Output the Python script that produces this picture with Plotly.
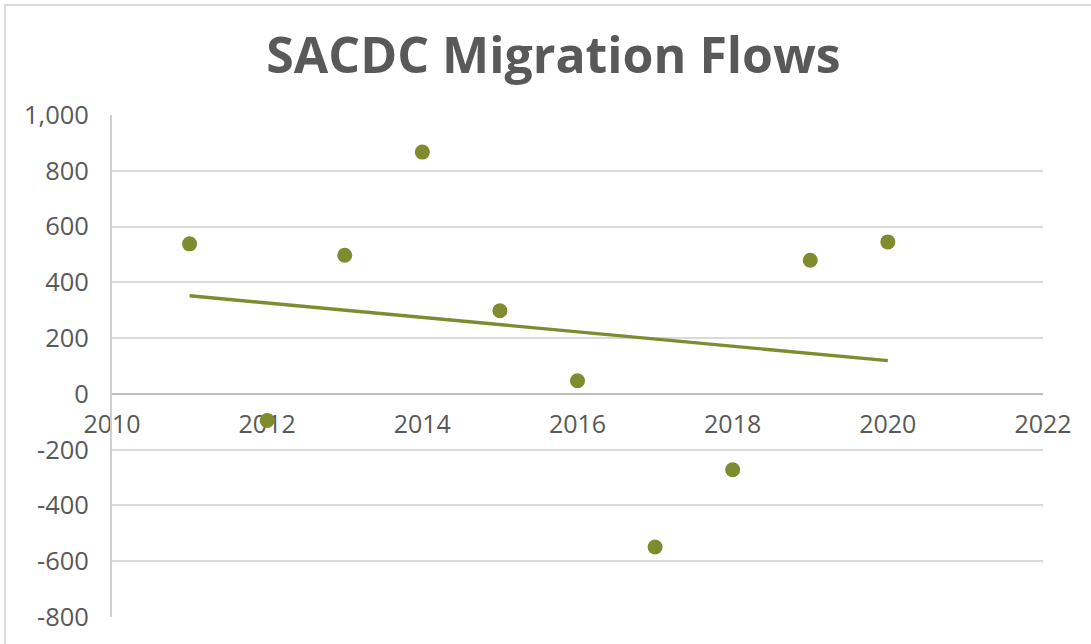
import numpy as np
import plotly.graph_objects as go

years = [2011, 2012, 2013, 2014, 2015, 2016, 2017, 2018, 2019, 2020]
flows = [538, -95, 497, 867, 298, 47, -549, -272, 479, 545]
x_ticks = [2010, 2012, 2014, 2016, 2018, 2020, 2022]
y_ticks = [-800, -600, -400, -200, 0, 200, 400, 600, 800, 1000]
title_text = "SACDC Migration Flows"

COLOR = "#7f8b2f"
TXT = "#595959"
FONT = "Open Sans"

# linear trendline (least squares)
slope, intercept = np.polyfit(years, flows, 1)
trend_x = [min(years), max(years)]
trend_y = [slope * v + intercept for v in trend_x]

fig = go.Figure()
fig.add_trace(go.Scatter(x=years, y=flows, mode="markers",
                         marker=dict(color=COLOR, size=15), showlegend=False))
fig.add_trace(go.Scatter(x=trend_x, y=trend_y, mode="lines",
                         line=dict(color=COLOR, width=3.4), showlegend=False))

W, H = 1091, 644
L, R, T, B = 112, 48, 115, 27
pw, ph = W - L - R, H - T - B
ymin, ymax = -800, 1000
zero_pos = (0 - ymin) / (ymax - ymin)

fig.update_layout(
    width=W, height=H,
    margin=dict(l=L, r=R, t=T, b=B),
    paper_bgcolor="white", plot_bgcolor="white",
    title=dict(text="<b>" + title_text + "</b>", x=553.5 / W, xref="container",
               y=1 - 55 / H, yref="container", xanchor="center", yanchor="middle",
               font=dict(family=FONT, size=50, color=TXT)),
    xaxis=dict(range=[2010, 2022], tickvals=x_ticks, ticktext=[str(v) for v in x_ticks],
               showgrid=False, zeroline=False, showline=True, linecolor="#bfbfbf", linewidth=2,
               anchor="free", position=zero_pos, layer="below traces",
               ticks="outside", ticklen=8, tickcolor="rgba(0,0,0,0)",
               tickfont=dict(family=FONT, size=25, color=TXT)),
    yaxis=dict(range=[ymin, ymax], tickvals=y_ticks,
               ticktext=[f"{v:,}" for v in y_ticks],
               showgrid=True, gridcolor="#d9d9d9", gridwidth=2,
               zeroline=False, showline=True, linecolor="#cfcfcf", linewidth=2,
               ticks="outside", ticklen=16, tickcolor="rgba(0,0,0,0)",
               tickfont=dict(family=FONT, size=25.5, color=TXT)),
    shapes=[dict(type="rect", xref="paper", yref="paper",
                 x0=(5 - L) / pw, x1=(W + 20 - L) / pw,
                 y0=(T + ph - (H + 20)) / ph, y1=(T + ph - 5) / ph,
                 line=dict(color="#d9d9d9", width=2), fillcolor="rgba(0,0,0,0)",
                 layer="below")],
)

fig.write_html("out.html", config={"displayModeBar": False},
               post_script="document.body.style.margin='0';")
